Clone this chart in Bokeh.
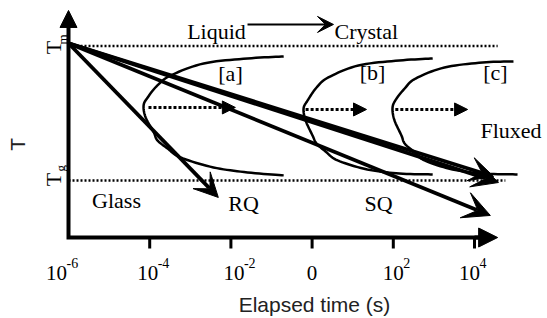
import math
from bokeh.plotting import figure
from bokeh.models import Range1d, Arrow, VeeHead, NormalHead, ColumnDataSource
from bokeh.core.properties import value
from bokeh.embed import file_html
from bokeh.resources import INLINE

# ---------------- data (x = log10 of elapsed time, y = temperature, Tg = 0, Tm = 1) -------------
T_m = 1.0
T_g = 0.0
axis_T = -0.424          # temperature level where the time axis is drawn
time_min = -6.0

tick_logs = [-6, -4, -2, 0, 2, 4]
tick_base = ["10", "10", "10", "0", "10", "10"]
tick_exp = ["-6", "-4", "-2", "", "2", "4"]
tick_marks = [-4, -2, 0, 2, 4]

# cooling paths from (1e-6 s, just above Tm)
path_start = (-6.0, 1.02)
path_end_log = [-2.31, 4.59, 4.47, 4.39]
path_end_T = [-0.126, -0.015, 0.030, -0.260]

# C-curves (TTT noses)  [a], [b], [c]
curve_a_log = [-0.70, -1.59, -2.67, -3.48, -3.81, -4.05, -4.15, -4.10, -3.90, -3.81, -3.56, -3.24, -2.43, -1.59, -0.70]
curve_a_T = [0.922, 0.907, 0.870, 0.781, 0.707, 0.617, 0.558, 0.469, 0.358, 0.298, 0.238, 0.171, 0.097, 0.060, 0.038]
curve_b_log = [2.97, 2.15, 1.14, 0.40, 0.11, -0.11, -0.21, -0.16, 0.01, 0.11, 0.33, 0.63, 1.36, 2.15, 2.97]
curve_b_T = [0.907, 0.892, 0.855, 0.766, 0.691, 0.595, 0.535, 0.446, 0.335, 0.275, 0.216, 0.149, 0.082, 0.052, 0.045]
curve_c_log = [4.96, 4.20, 3.26, 2.55, 2.28, 2.05, 1.98, 2.03, 2.20, 2.28, 2.50, 2.77, 3.46, 4.20, 5.06]
curve_c_T = [0.885, 0.877, 0.840, 0.758, 0.684, 0.595, 0.535, 0.446, 0.335, 0.275, 0.216, 0.149, 0.082, 0.052, 0.045]

# dotted "fluxed" arrows from each nose
nose_start_log = [-4.03, -0.16, 2.05]
nose_end_log = [-1.89, 1.34, 3.83]
nose_T = [0.543, 0.528, 0.528]

# ---------------- figure ----------------
W, H = 547, 318
p = figure(width=W, height=H, output_backend="svg", toolbar_location=None,
           x_range=Range1d(-7.675, 5.798), y_range=Range1d(-1.026, 1.338),
           x_axis_type=None, y_axis_type=None, min_border=0,
           min_border_left=0, min_border_right=0, min_border_top=0, min_border_bottom=0)
p.outline_line_color = None
p.grid.visible = False
p.background_fill_color = "white"
p.border_fill_color = "white"

SERIF = value("Liberation Serif")
SANS = value("Liberation Sans")


def smooth(xs, ys, n=10, sx=40.6, sy=134.5):
    """Catmull-Rom rendering of a curve through the read points (drawing only)."""
    P = [(x * sx, y * sy) for x, y in zip(xs, ys)]
    P = [P[0]] + P + [P[-1]]
    ox, oy = [], []
    for i in range(1, len(P) - 2):
        p0, p1, p2, p3 = P[i - 1], P[i], P[i + 1], P[i + 2]
        for k in range(n):
            t = k / n
            t2, t3 = t * t, t * t * t
            vals = []
            for d in range(2):
                vals.append(0.5 * ((2 * p1[d]) + (-p0[d] + p2[d]) * t +
                                   (2 * p0[d] - 5 * p1[d] + 4 * p2[d] - p3[d]) * t2 +
                                   (-p0[d] + 3 * p1[d] - 3 * p2[d] + p3[d]) * t3))
            ox.append(vals[0] / sx)
            oy.append(vals[1] / sy)
    ox.append(P[-2][0] / sx)
    oy.append(P[-2][1] / sy)
    return ox, oy


# Tm and Tg dotted levels
p.segment(x0=[time_min, time_min], y0=[T_m, T_g], x1=[4.57, 4.76], y1=[T_m, T_g],
          line_color="black", line_width=2.5, line_dash="2 2")

# axes (lines + arrow heads)
p.line(x=[time_min, time_min, 4.3], y=[1.2, axis_T, axis_T], line_color="black",
       line_width=4, line_join="miter")
p.add_layout(Arrow(end=NormalHead(size=17, fill_color="black", line_color="black"),
                   x_start=time_min, y_start=1.15, x_end=time_min, y_end=1.264,
                   line_width=4, line_color="black"))
p.add_layout(Arrow(end=NormalHead(size=19, fill_color="black", line_color="black"),
                   x_start=4.0, y_start=axis_T, x_end=4.57, y_end=axis_T,
                   line_width=4, line_color="black"))
p.segment(x0=tick_marks, y0=[axis_T] * len(tick_marks), x1=tick_marks, y1=[axis_T - 0.082] * len(tick_marks),
          line_color="black", line_width=3)

# tick labels "10" with superscript exponents
label_shift = [-12, -2, 3, 0, 0, -5]
src_ticks = ColumnDataSource(dict(x=tick_logs, base=tick_base, exp=tick_exp,
                                  yb=[-0.691] * 6, ye=[-0.617] * 6,
                                  dx=label_shift, dxe=[s + 10 for s in label_shift]))
p.text(x="x", y="yb", text="base", x_offset="dx", source=src_ticks, text_font=SERIF,
       text_font_size="21px", text_align="center", text_baseline="alphabetic", text_color="black")
p.text(x="x", y="ye", text="exp", x_offset="dxe", source=src_ticks, text_font=SERIF,
       text_font_size="14px", text_align="left", text_baseline="alphabetic", text_color="black")

# C-curves
for cx, cy in [(curve_a_log, curve_a_T), (curve_b_log, curve_b_T), (curve_c_log, curve_c_T)]:
    sxs, sys_ = smooth(cx, cy)
    p.line(sxs, sys_, line_color="black", line_width=2.5, line_join="round")

# dotted nose arrows
for xs, xe, yy in zip(nose_start_log, nose_end_log, nose_T):
    p.add_layout(Arrow(end=NormalHead(size=13, fill_color="black", line_color="black"),
                       x_start=xs, y_start=yy, x_end=xe, y_end=yy,
                       line_width=3, line_color="black", line_dash="3 2"))

# cooling paths
head_sizes = [24, 26, 24, 27]
for xe, ye, hs in zip(path_end_log, path_end_T, head_sizes):
    p.add_layout(Arrow(end=VeeHead(size=hs, fill_color="black", line_color="black"),
                       x_start=path_start[0], y_start=path_start[1], x_end=xe, y_end=ye,
                       line_width=3.8, line_color="black"))

# Liquid -> Crystal
p.add_layout(Arrow(end=VeeHead(size=16, fill_color="black", line_color="black"),
                   x_start=-1.591, y_start=1.160, x_end=0.527, y_end=1.160,
                   line_width=2, line_color="black"))


def txt(x, y, s, size="22px", align="center", baseline="alphabetic", font=SERIF, angle=0.0, color="black"):
    p.text(x=[x], y=[y], text=[s], text_font=font, text_font_size=size, text_align=align,
           text_baseline=baseline, angle=angle, text_color=color)


txt(-2.355, 1.108, "Liquid")
txt(0.552, 1.108, "Crystal", align="left")
txt(-2.010, 0.796, "[a]", baseline="middle")
txt(1.488, 0.803, "[b]", baseline="middle")
txt(4.517, 0.803, "[c]", baseline="middle")
txt(4.148, 0.372, "Fluxed", size="22px", align="left")
txt(-4.818, -0.149, "Glass")
txt(-1.690, -0.171, "RQ")
txt(1.635, -0.171, "SQ")

# y-axis labels (rotated)
txt(-7.256, 0.268, "T", size="21px", font=SANS, baseline="middle", angle=math.pi / 2, color="#222222")
txt(-6.369, 0.989, "T", size="22px", angle=math.pi / 2)
txt(-6.148, 1.011, "m", size="13px", align="left", angle=math.pi / 2)
txt(-6.369, 0.007, "T", size="22px", angle=math.pi / 2)
txt(-6.197, 0.067, "g", size="13px", align="left", angle=math.pi / 2)

# x-axis title
txt(0.059, -0.922, "Elapsed time (s)", size="21px", font=SANS, color="#222222")

open("out.html", "w").write(file_html(p, INLINE))
